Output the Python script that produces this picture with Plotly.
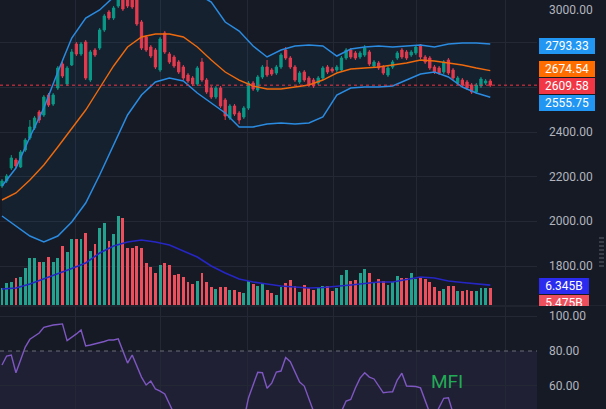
import plotly.graph_objects as go

# ---------------- data ----------------
bars = list(range(106))

opens = [2158.4, 2180.8, 2239.0, 2274.8, 2243.4, 2319.5, 2373.2, 2417.9, 2489.5, 2476.1,
         2565.6, 2525.3, 2596.9, 2704.3, 2614.8, 2699.8, 2793.7, 2749.0, 2802.7, 2632.7,
         2766.9, 2775.8, 2856.4, 2936.9, 2910.1, 2963.8, 3004.0, 2990.6, 2999.5, 2990.6,
         2892.2, 2825.1, 2780.3, 2766.9, 2677.4, 2843.0, 2749.0, 2735.6, 2713.2, 2690.8,
         2655.0, 2641.6, 2614.8, 2713.2, 2632.7, 2596.9, 2556.6, 2596.9, 2543.2, 2462.7,
         2516.4, 2485.0, 2467.1, 2507.4, 2619.3, 2587.9, 2646.1, 2690.8, 2677.4, 2664.0,
         2690.8, 2766.9, 2731.1, 2690.8, 2623.7, 2668.5, 2641.6, 2632.7, 2619.3, 2641.6,
         2690.8, 2681.9, 2677.4, 2677.4, 2731.1, 2766.9, 2753.5, 2735.6, 2744.5, 2758.0,
         2695.3, 2708.7, 2690.8, 2655.0, 2690.8, 2731.1, 2766.9, 2758.0, 2744.5, 2753.5,
         2789.3, 2735.6, 2731.1, 2690.8, 2686.4, 2668.5, 2722.2, 2677.4, 2619.3, 2632.7,
         2623.7, 2610.3, 2579.0, 2605.8, 2619.3, 2628.2]

closes = [2180.8, 2203.2, 2283.7, 2247.9, 2310.6, 2364.2, 2422.4, 2462.7, 2453.7, 2556.6,
          2520.8, 2565.6, 2686.4, 2650.6, 2686.4, 2758.0, 2749.0, 2793.7, 2641.6, 2758.0,
          2744.5, 2856.4, 2919.0, 2910.1, 2954.8, 2999.5, 2950.3, 2963.8, 2959.3, 2883.2,
          2775.8, 2766.9, 2740.1, 2690.8, 2816.1, 2758.0, 2713.2, 2695.3, 2668.5, 2641.6,
          2628.2, 2614.8, 2686.4, 2632.7, 2579.0, 2556.6, 2596.9, 2516.4, 2471.6, 2516.4,
          2480.6, 2453.7, 2507.4, 2619.3, 2592.4, 2646.1, 2690.8, 2655.0, 2659.5, 2690.8,
          2744.5, 2731.1, 2690.8, 2632.7, 2664.0, 2632.7, 2610.3, 2605.8, 2641.6, 2686.4,
          2668.5, 2672.9, 2690.8, 2731.1, 2766.9, 2735.6, 2731.1, 2753.5, 2775.8, 2704.3,
          2713.2, 2686.4, 2664.0, 2686.4, 2713.2, 2753.5, 2735.6, 2731.1, 2758.0, 2780.3,
          2735.6, 2713.2, 2686.4, 2668.5, 2664.0, 2713.2, 2664.0, 2641.6, 2641.6, 2610.3,
          2596.9, 2579.0, 2610.3, 2637.2, 2628.2, 2609.58]

highs = [2189.8, 2212.1, 2297.1, 2283.7, 2319.5, 2373.2, 2453.7, 2471.6, 2498.5, 2565.6,
         2574.5, 2574.5, 2695.3, 2713.2, 2695.3, 2771.4, 2802.7, 2802.7, 2811.6, 2766.9,
         2775.8, 2865.3, 2928.0, 2945.9, 2963.8, 3013.0, 3013.0, 2999.5, 3008.5, 2999.5,
         2901.1, 2834.0, 2789.3, 2775.8, 2825.1, 2851.9, 2758.0, 2744.5, 2722.2, 2699.8,
         2664.0, 2650.6, 2695.3, 2731.1, 2641.6, 2605.8, 2605.8, 2605.8, 2552.1, 2525.3,
         2525.3, 2494.0, 2516.4, 2628.2, 2628.2, 2655.0, 2699.8, 2722.2, 2686.4, 2699.8,
         2753.5, 2780.3, 2740.1, 2699.8, 2672.9, 2677.4, 2650.6, 2641.6, 2650.6, 2695.3,
         2699.8, 2690.8, 2699.8, 2740.1, 2775.8, 2775.8, 2762.4, 2762.4, 2789.3, 2766.9,
         2722.2, 2717.7, 2699.8, 2695.3, 2722.2, 2762.4, 2775.8, 2766.9, 2766.9, 2789.3,
         2793.7, 2744.5, 2740.1, 2699.8, 2695.3, 2722.2, 2731.1, 2686.4, 2650.6, 2641.6,
         2632.7, 2619.3, 2619.3, 2646.1, 2637.2, 2637.2]

lows = [2149.5, 2171.9, 2230.0, 2239.0, 2239.0, 2310.6, 2364.2, 2409.0, 2440.3, 2467.1,
        2511.9, 2516.4, 2587.9, 2641.6, 2605.8, 2695.3, 2740.1, 2740.1, 2632.7, 2623.7,
        2735.6, 2766.9, 2847.4, 2901.1, 2901.1, 2954.8, 2941.4, 2954.8, 2950.3, 2874.3,
        2766.9, 2758.0, 2731.1, 2681.9, 2668.5, 2749.0, 2704.3, 2686.4, 2659.5, 2632.7,
        2619.3, 2605.8, 2605.8, 2623.7, 2570.0, 2547.7, 2547.7, 2507.4, 2453.7, 2453.7,
        2471.6, 2435.8, 2458.2, 2498.5, 2583.5, 2579.0, 2637.2, 2646.1, 2650.6, 2655.0,
        2681.9, 2722.2, 2681.9, 2623.7, 2614.8, 2623.7, 2601.4, 2596.9, 2610.3, 2632.7,
        2659.5, 2664.0, 2668.5, 2668.5, 2722.2, 2726.6, 2722.2, 2726.6, 2735.6, 2695.3,
        2686.4, 2677.4, 2655.0, 2646.1, 2681.9, 2722.2, 2726.6, 2722.2, 2735.6, 2744.5,
        2726.6, 2704.3, 2677.4, 2659.5, 2655.0, 2659.5, 2655.0, 2632.7, 2610.3, 2601.4,
        2587.9, 2570.0, 2570.0, 2596.9, 2610.3, 2601.4]

# volume in billions
volume_b = [5.44, 7.04, 7.36, 8.64, 8.96, 11.84, 15.04, 15.04, 13.76, 13.76,
            15.36, 13.76, 15.04, 18.88, 16.96, 21.12, 21.12, 21.12, 23.04, 17.28,
            19.52, 24.64, 26.24, 20.48, 22.72, 28.48, 27.84, 18.24, 18.24, 18.88,
            18.24, 13.44, 12.16, 10.24, 12.8, 13.44, 12.8, 9.6, 9.92, 8.96,
            7.36, 6.72, 7.68, 10.24, 7.36, 5.76, 5.12, 5.76, 5.76, 4.8,
            4.8, 4.16, 3.84, 7.68, 6.72, 6.08, 7.04, 4.8, 3.84, 3.2,
            5.76, 7.04, 8.0, 6.08, 4.16, 6.4, 5.44, 4.8, 5.44, 6.08,
            6.08, 4.48, 5.44, 9.6, 11.2, 7.68, 8.0, 10.24, 11.52, 10.24,
            7.04, 8.32, 7.68, 6.4, 7.36, 9.28, 8.64, 8.64, 10.24, 8.32,
            8.96, 8.32, 7.36, 5.76, 4.48, 5.12, 6.08, 6.08, 4.48, 4.48,
            4.8, 4.48, 4.48, 5.44, 5.44, 5.475]

# indicator lines, sampled every third bar
band_bars = list(range(0, 106, 3))
bb_upper = [2158.4, 2238.9, 2377.6, 2507.4, 2668.4, 2820.6, 2910.0, 2945.8, 3004.0, 3057.7,
            3089.0, 3102.4, 3089.0, 3057.7, 3017.4, 2981.6, 2892.1, 2851.9, 2784.8, 2735.6,
            2766.9, 2784.8, 2789.2, 2784.8, 2740.0, 2771.3, 2780.3, 2784.8, 2780.3, 2784.8,
            2789.2, 2780.3, 2793.7, 2798.2, 2798.2, 2793.33]
bb_basis = [2095.8, 2127.1, 2185.2, 2252.4, 2332.9, 2417.9, 2498.4, 2596.9, 2695.3, 2780.3,
            2825.0, 2838.5, 2838.5, 2825.0, 2780.3, 2722.1, 2668.4, 2632.6, 2605.8, 2592.4,
            2592.4, 2601.3, 2610.3, 2632.6, 2664.0, 2681.9, 2686.3, 2690.8, 2699.8, 2708.7,
            2722.1, 2717.7, 2708.7, 2699.8, 2686.3, 2674.54]
bb_lower = [2024.2, 1979.4, 1934.7, 1907.9, 1934.7, 1997.3, 2082.3, 2207.6, 2341.8, 2476.1,
            2565.5, 2623.7, 2641.6, 2628.2, 2574.5, 2529.7, 2485.0, 2422.4, 2422.4, 2435.8,
            2440.3, 2435.8, 2440.3, 2467.1, 2565.5, 2596.9, 2601.3, 2601.3, 2605.8, 2632.6,
            2659.5, 2668.4, 2646.1, 2601.3, 2574.5, 2555.75]
vol_ma_b = [5.12, 5.44, 6.72, 8.32, 9.92, 11.68, 13.44, 16.64, 18.88, 20.16,
            20.8, 20.16, 19.2, 17.28, 15.36, 12.48, 10.24, 8.32, 7.36, 6.72,
            6.08, 5.76, 5.44, 5.6, 5.92, 6.4, 6.88, 7.36, 7.36, 8.16,
            8.96, 8.64, 7.68, 7.2, 6.72, 6.345]

mfi = [71.9, 77.1, 77.7, 67.4, 74.8, 82.3, 86.8, 88.7, 90.4, 93.7,
       94.5, 95.1, 95.4, 95.7, 86.0, 87.8, 89.9, 92.2, 82.9, 83.5,
       84.1, 84.8, 85.5, 86.4, 86.4, 87.0, 79.4, 73.0, 77.7, 70.7,
       64.9, 60.3, 62.6, 58.0, 56.8, 55.1, 48.7, 42, 38, 35,
       33, 30, 34, 31, 28, 26, 29, 25, 22, 26,
       28, 31, 40, 52.8, 60.3, 67.7, 67.4, 58.4, 61.4, 67.8,
       68.4, 76.3, 73.8, 67.8, 62.0, 59.7, 52.8, 45, 42, 40,
       43, 41, 44, 45, 51.0, 51.9, 58.6, 64.3, 67.4, 64.9,
       63.8, 59.7, 55.8, 56.2, 56.4, 63.2, 67.1, 59.7, 59.7, 59.4,
       58.6, 51.6, 44, 42, 47.5, 52.6, 52.9, 44, 40, 37,
       35, 33, 34, 36, 38, 37]

month_starts = [15.7, 34.0, 52.9, 71.2, 89.2, 108.2]
price_ticks = [2400, 2200, 2000, 1800]
top_price_tick = 3000
price_grid = [1800, 2000, 2200, 2400, 2600, 2800, 3000]
mfi_ticks = [100, 80, 60]
last_upper, last_basis, last_close, last_lower = 2793.33, 2674.54, 2609.58, 2555.75
last_vol_ma, last_vol = "6.345B", "5.475B"

# ---------------- styling ----------------
BG = '#161A25'
GRID = '#242835'
TXT = '#B2B5BE'
GREEN = '#089981'
RED = '#F23645'
VGREEN = '#22A38F'
VRED = '#EE4F5C'
BLUE = '#2196F3'
LBLUE = '#2A8BE0'
ORANGE = '#FF6D00'
LORANGE = '#EF6A0C'
VBLUE = '#2B2BF0'
VLINE = '#2626C4'
PURPLE = '#7E57C2'
FONT = 'Roboto'

W, H = 606, 409
PW = 537 / W                 # plot-area right edge
def py(p):                    # pixel row -> paper y
    return (H - p) / H

vol_colors = [VGREEN if c >= o else VRED for o, c in zip(opens, closes)]

fig = go.Figure()
fig.add_trace(go.Scatter(x=band_bars, y=bb_upper, mode='lines',
                         line=dict(color=LBLUE, width=1.5), hoverinfo='skip'))
fig.add_trace(go.Scatter(x=band_bars, y=bb_lower, mode='lines',
                         line=dict(color=LBLUE, width=1.5), fill='tonexty',
                         fillcolor='rgba(33,150,243,0.06)', hoverinfo='skip'))
fig.add_trace(go.Scatter(x=band_bars, y=bb_basis, mode='lines',
                         line=dict(color=LORANGE, width=1.4), hoverinfo='skip'))
fig.add_trace(go.Candlestick(x=bars, open=opens, high=highs, low=lows, close=closes,
                             increasing=dict(line=dict(color=GREEN, width=1), fillcolor=GREEN),
                             decreasing=dict(line=dict(color=RED, width=1), fillcolor=RED),
                             whiskerwidth=0, hoverinfo='skip'))
fig.add_trace(go.Bar(x=bars, y=volume_b, marker=dict(color=vol_colors, line=dict(width=0)),
                     width=0.62, yaxis='y3', hoverinfo='skip'))
fig.add_trace(go.Scatter(x=band_bars, y=vol_ma_b, mode='lines', yaxis='y3',
                         line=dict(color=VLINE, width=1.6), hoverinfo='skip'))
fig.add_trace(go.Scatter(x=bars, y=mfi, mode='lines', xaxis='x2', yaxis='y2',
                         line=dict(color=PURPLE, width=1.4), hoverinfo='skip'))

xcommon = dict(domain=[0, PW], range=[-0.43, 115.05], showticklabels=False,
               tickvals=month_starts, showgrid=True, gridcolor=GRID, gridwidth=1,
               zeroline=False, showline=False, ticks='')
fig.update_layout(
    width=W, height=H, margin=dict(l=0, r=0, t=0, b=0),
    paper_bgcolor=BG, plot_bgcolor=BG, showlegend=False,
    xaxis=dict(**xcommon, anchor='y', rangeslider=dict(visible=False)),
    xaxis2=dict(**xcommon, anchor='y2', matches='x'),
    yaxis=dict(domain=[py(305), 1], range=[1626.0, 2990.6], tickvals=price_grid,
               showticklabels=False, showgrid=True, gridcolor=GRID, zeroline=False),
    yaxis3=dict(overlaying='y', range=[0, 97.6], visible=False, showgrid=False),
    yaxis2=dict(domain=[0, py(307)], range=[46.4, 105.5], tickvals=[60, 100],
                showticklabels=False, showgrid=True, gridcolor=GRID, zeroline=False),
    bargap=0,
)

shapes = [
    dict(type='rect', xref='paper', yref='y2', x0=0, x1=PW, y0=20, y1=80,
         fillcolor='rgba(126,87,194,0.10)', line=dict(width=0), layer='below'),
    dict(type='line', xref='paper', yref='y2', x0=0, x1=PW, y0=80, y1=80,
         line=dict(color='#6A6D78', width=1, dash='4px,4px')),
    dict(type='line', xref='paper', yref='y', x0=0, x1=PW, y0=last_close, y1=last_close,
         line=dict(color=RED, width=1, dash='dot')),
    dict(type='line', xref='paper', yref='paper', x0=0, x1=1, y0=py(306), y1=py(306),
         line=dict(color='#2A2E39', width=1)),
]
for k in range(8):
    yy = py(238 + 4 * k)
    shapes.append(dict(type='line', xref='paper', yref='paper', x0=599 / W, x1=604 / W,
                       y0=yy, y1=yy, line=dict(color='#5D606B', width=1)))
fig.update_layout(shapes=shapes)

ann = []
for t in price_ticks:
    ann.append(dict(text=f"{t:.2f}", xref='paper', yref='y', x=547 / W, y=t,
                    xanchor='left', yanchor='middle', showarrow=False,
                    font=dict(family=FONT, size=12, color=TXT)))
# the 3000 tick sits at the very top edge; keep its text fully inside the page
ann.append(dict(text=f"{top_price_tick:.2f}", xref='paper', yref='paper', x=547 / W,
                y=1, xanchor='left', yanchor='top', showarrow=False, yshift=-1,
                font=dict(family=FONT, size=12, color=TXT)))

def box(text, yval, color, yref='y', yshift=0, w=54):
    return dict(text=text, xref='paper', yref=yref, x=539 / W, y=yval, xanchor='left',
                yanchor='middle', showarrow=False, bgcolor=color, borderpad=1,
                borderwidth=0, width=w, height=14, align='center', yshift=yshift,
                font=dict(family=FONT, size=12, color='#FFFFFF'))

ann.append(box(f"{last_upper:.2f}", last_upper, BLUE, yshift=-2))
ann.append(box(f"{last_basis:.2f}", last_basis, ORANGE, yshift=1.5))
ann.append(box(f"{last_close:.2f}", last_close, RED, yshift=-0.5))
ann.append(box(f"{last_lower:.2f}", last_lower, BLUE, yshift=-6))
ann.append(box(last_vol_ma, 6.345, VBLUE, yref='y3', yshift=-0.5, w=48))
ann.append(box(last_vol, 5.475, VRED, yref='y3', yshift=-15, w=48))
# pane boundary hides the lower part of the last volume label
ann.append(dict(text=' ', xref='paper', yref='paper', x=538 / W, y=py(305.5),
                xanchor='left', yanchor='top', showarrow=False, bgcolor=BG,
                borderpad=0, borderwidth=0, width=68, height=8,
                font=dict(size=6, color=BG)))
for t in mfi_ticks:
    ann.append(dict(text=f"{t:.2f}", xref='paper', yref='y2', x=547 / W, y=t,
                    xanchor='left', yanchor='middle', showarrow=False,
                    font=dict(family=FONT, size=12, color=TXT)))
ann.append(dict(text='MFI', xref='paper', yref='paper', x=429 / W, y=py(381),
                xanchor='left', yanchor='middle', showarrow=False,
                font=dict(family=FONT, size=19, color='#22AB55')))
fig.update_layout(annotations=ann)

fig.write_html("out.html")
